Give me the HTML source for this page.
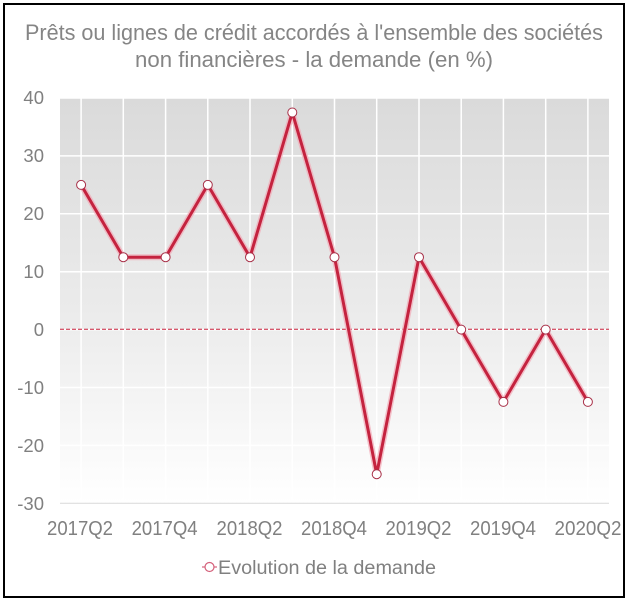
<!DOCTYPE html>
<html><head><meta charset="utf-8"><style>
html,body{margin:0;padding:0;background:#fff;}
svg{display:block;font-family:"Liberation Sans",sans-serif;}
</style></head><body>
<svg width="628" height="601" viewBox="0 0 628 601" xmlns="http://www.w3.org/2000/svg">
<defs>
<linearGradient id="bg" x1="0" y1="0" x2="0" y2="1">
<stop offset="0" stop-color="#dadada"/>
<stop offset="0.55" stop-color="#ececec"/>
<stop offset="1" stop-color="#ffffff"/>
</linearGradient>
</defs>
<rect x="0" y="0" width="628" height="601" fill="#fff"/>
<rect x="4" y="4" width="620" height="593" fill="none" stroke="#000" stroke-width="2"/>
<text x="314" y="40" text-anchor="middle" font-size="22" fill="#858585" textLength="578" lengthAdjust="spacingAndGlyphs">Prêts ou lignes de crédit accordés à l'ensemble des sociétés</text>
<text x="314" y="67" text-anchor="middle" font-size="22" fill="#858585" textLength="358" lengthAdjust="spacingAndGlyphs">non financières - la demande (en %)</text>
<rect x="60" y="98" width="549" height="405.3" fill="url(#bg)"/>
<g stroke="#fff" stroke-width="1.5">
<line x1="60" y1="98" x2="609" y2="98"/>
<line x1="60" y1="155.9" x2="609" y2="155.9"/>
<line x1="60" y1="213.8" x2="609" y2="213.8"/>
<line x1="60" y1="271.7" x2="609" y2="271.7"/>
<line x1="60" y1="329.6" x2="609" y2="329.6"/>
<line x1="60" y1="387.5" x2="609" y2="387.5"/>
<line x1="60" y1="445.4" x2="609" y2="445.4"/>
<line x1="81.1" y1="98" x2="81.1" y2="503"/>
<line x1="123.3" y1="98" x2="123.3" y2="503"/>
<line x1="165.6" y1="98" x2="165.6" y2="503"/>
<line x1="207.8" y1="98" x2="207.8" y2="503"/>
<line x1="250.0" y1="98" x2="250.0" y2="503"/>
<line x1="292.3" y1="98" x2="292.3" y2="503"/>
<line x1="334.5" y1="98" x2="334.5" y2="503"/>
<line x1="376.7" y1="98" x2="376.7" y2="503"/>
<line x1="419.0" y1="98" x2="419.0" y2="503"/>
<line x1="461.2" y1="98" x2="461.2" y2="503"/>
<line x1="503.4" y1="98" x2="503.4" y2="503"/>
<line x1="545.7" y1="98" x2="545.7" y2="503"/>
<line x1="587.9" y1="98" x2="587.9" y2="503"/>
</g>
<line x1="60" y1="503.3" x2="609" y2="503.3" stroke="#d9d9d9" stroke-width="1"/>
<line x1="60" y1="329.3" x2="609" y2="329.3" stroke="#c8203c" stroke-width="1" stroke-dasharray="4,2"/>
<g font-size="18.5" fill="#808080" text-anchor="end">
<text x="44" y="104">40</text>
<text x="44" y="162">30</text>
<text x="44" y="220">20</text>
<text x="44" y="278">10</text>
<text x="44" y="336">0</text>
<text x="44" y="394">-10</text>
<text x="44" y="452">-20</text>
<text x="44" y="510">-30</text>
</g>
<g font-size="20" fill="#808080" text-anchor="middle">
<text x="80" y="535" textLength="66" lengthAdjust="spacingAndGlyphs">2017Q2</text>
<text x="164.6" y="535" textLength="66" lengthAdjust="spacingAndGlyphs">2017Q4</text>
<text x="249.5" y="535" textLength="66" lengthAdjust="spacingAndGlyphs">2018Q2</text>
<text x="334" y="535" textLength="66" lengthAdjust="spacingAndGlyphs">2018Q4</text>
<text x="418.5" y="535" textLength="66" lengthAdjust="spacingAndGlyphs">2019Q2</text>
<text x="503" y="535" textLength="66" lengthAdjust="spacingAndGlyphs">2019Q4</text>
<text x="588" y="535" textLength="67" lengthAdjust="spacingAndGlyphs">2020Q2</text>
</g>
<polyline fill="none" stroke="#f2a9b6" stroke-opacity="0.7" stroke-width="6" stroke-linejoin="round"
points="81.1,184.9 123.3,257.2 165.6,257.2 207.8,184.9 250.0,257.2 292.3,112.5 334.5,257.2 376.7,474.2 419.0,257.2 461.2,329.6 503.4,401.9 545.7,329.6 587.9,401.9"/>
<polyline fill="none" stroke="#c4233f" stroke-width="3" stroke-linejoin="round"
points="81.1,184.9 123.3,257.2 165.6,257.2 207.8,184.9 250.0,257.2 292.3,112.5 334.5,257.2 376.7,474.2 419.0,257.2 461.2,329.6 503.4,401.9 545.7,329.6 587.9,401.9"/>
<g fill="#fff" stroke="#a83048" stroke-width="1">
<circle cx="81.1" cy="184.9" r="4.5"/>
<circle cx="123.3" cy="257.2" r="4.5"/>
<circle cx="165.6" cy="257.2" r="4.5"/>
<circle cx="207.8" cy="184.9" r="4.5"/>
<circle cx="250.0" cy="257.2" r="4.5"/>
<circle cx="292.3" cy="112.5" r="4.5"/>
<circle cx="334.5" cy="257.2" r="4.5"/>
<circle cx="376.7" cy="474.2" r="4.5"/>
<circle cx="419.0" cy="257.2" r="4.5"/>
<circle cx="461.2" cy="329.6" r="4.5"/>
<circle cx="503.4" cy="401.9" r="4.5"/>
<circle cx="545.7" cy="329.6" r="4.5"/>
<circle cx="587.9" cy="401.9" r="4.5"/>
</g>
<line x1="202" y1="567" x2="217" y2="567" stroke="#d4607a" stroke-width="1.2"/>
<circle cx="209.5" cy="567" r="4.5" fill="#fff" stroke="#d4607a" stroke-width="1.2"/>
<text x="218" y="574" font-size="19" fill="#808080" textLength="218" lengthAdjust="spacingAndGlyphs">Evolution de la demande</text>
</svg>
</body></html>
